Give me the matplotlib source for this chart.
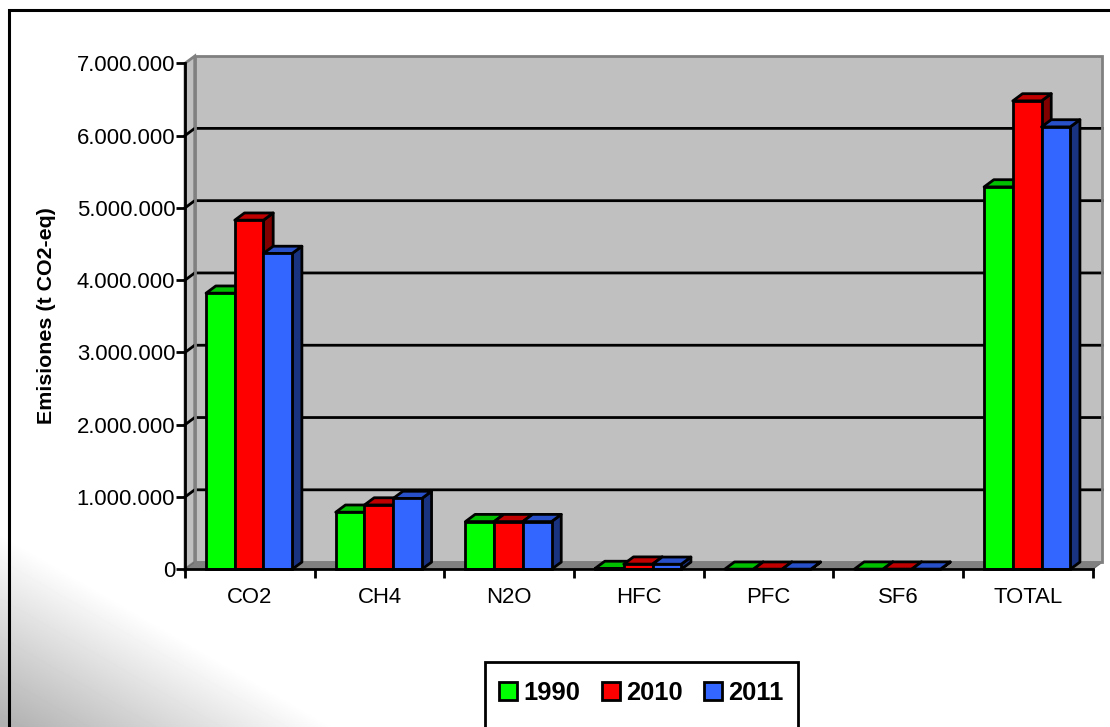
import numpy as np
import matplotlib
matplotlib.use('Agg')
import matplotlib.pyplot as plt
from matplotlib.patches import Polygon, Rectangle

plt.rcParams['font.family'] = ['Liberation Sans', 'DejaVu Sans']

categories = ['CO2', 'CH4', 'N2O', 'HFC', 'PFC', 'SF6', 'TOTAL']
v1990 = [3820000, 790000, 660000, 12000, 2000, 3000, 5290000]
v2010 = [4830000, 890000, 660000, 72000, 2000, 3000, 6480000]
v2011 = [4370000, 980000, 660000, 70000, 2000, 3000, 6120000]
series_names = ['1990', '2010', '2011']
y_ticks = [0, 1000000, 2000000, 3000000, 4000000, 5000000, 6000000, 7000000]
y_labels = ['0', '1.000.000', '2.000.000', '3.000.000', '4.000.000', '5.000.000', '6.000.000', '7.000.000']

# front, top, side colours of each series
front = ['#00FF00', '#FF0000', '#3366FF']
top = ['#00C000', '#C00000', '#2850C8']
side = ['#008000', '#800000', '#1A3380']

W, H = 1110, 727
fig = plt.figure(figsize=(W / 100, H / 100), dpi=100, facecolor='white')

# background: white, fading to grey in the lower left corner
bg = fig.add_axes([0, 0, 1, 1], zorder=0)
bg.set_axis_off()
xx, yy = np.meshgrid(np.arange(W), np.arange(H))
d = (xx - 8) * 0.58 + (727 - yy)
shade = 176 + (255 - 176) * np.clip(d / 190, 0, 1)
bg.imshow(shade, cmap='gray', vmin=0, vmax=255, extent=[0, W, H, 0], aspect='auto', interpolation='bilinear')
bg.set_xlim(0, W)
bg.set_ylim(H, 0)
bg.plot([8.5, 8.5, W], [H, 10, 10], color='black', lw=2.2, solid_joinstyle='miter')

# chart area, front plane of the 3d box
left, right, y0, y7 = 185, 1092.7, 569.3, 63.3
ax = fig.add_axes([left / W, 1 - y0 / H, (right - left) / W, (y0 - y7) / H], zorder=1)
ax.patch.set_alpha(0)
ax.set_xlim(0, len(categories))
ax.set_ylim(0, 7000000)

# depth of the box in data units
px = (right - left) / len(categories)
dx = 9.7 / px
dy = 7.2 / ((y0 - y7) / 7000000)
xmax = len(categories)
ymax = 7000000
lw = 2.0

ax.add_patch(Polygon([(dx, dy), (xmax + dx, dy), (xmax + dx, ymax + dy), (dx, ymax + dy)],
                     fc='#C0C0C0', ec='none', clip_on=False, zorder=1))
ax.add_patch(Polygon([(0, 0), (dx, dy), (dx, ymax + dy), (0, ymax)],
                     fc='#C0C0C0', ec='#808080', lw=lw, clip_on=False, zorder=1))
ax.add_patch(Polygon([(0, 0), (xmax, 0), (xmax + dx, dy), (dx, dy)],
                     fc='#808080', ec='#6E6E6E', lw=0.8, clip_on=False, zorder=1.5))

# gridlines on the back wall plus the short step on the side wall
for t in y_ticks[1:-1]:
    ax.plot([0, dx, xmax + dx], [t, t + dy, t + dy], color='black', lw=lw, clip_on=False, zorder=2)
ax.add_patch(Polygon([(dx, dy), (xmax + dx, dy), (xmax + dx, ymax + dy), (dx, ymax + dy)],
                     fill=False, ec='#808080', lw=lw, clip_on=False, zorder=2.5))

bar_w = 28.7 / px
x = np.arange(len(categories)) + 0.5 - 0.7 / px
all_values = [v1990, v2010, v2011]
z = 3
for i in range(len(categories)):
    for s in range(3):
        xl = x[i] + (s - 1.5) * bar_w
        v = all_values[s][i]
        xr = xl + bar_w
        ax.add_patch(Polygon([(xr, 0), (xr + dx, dy), (xr + dx, v + dy), (xr, v)],
                             fc=side[s], ec='black', lw=lw, joinstyle='round', clip_on=False, zorder=z))
        ax.add_patch(Polygon([(xl, v), (xr, v), (xr + dx, v + dy), (xl + dx, v + dy)],
                             fc=top[s], ec='black', lw=lw, joinstyle='round', clip_on=False, zorder=z))
        ax.bar(xl, v, width=bar_w, align='edge', color=front[s], edgecolor='black', lw=lw, clip_on=False, zorder=z + 0.5)
        z += 1

for sp in ['top', 'right']:
    ax.spines[sp].set_visible(False)
for sp in ['left', 'bottom']:
    ax.spines[sp].set_linewidth(lw)
    ax.spines[sp].set_zorder(50)

ax.set_yticks(y_ticks)
ax.set_yticklabels(y_labels, fontsize=15.9)
ax.set_xticks(np.arange(len(categories) + 1))
ax.set_xticklabels([])
ax.set_xticks(np.arange(len(categories)) + 0.5, minor=True)
ax.set_xticklabels(categories, minor=True, fontsize=15.9)
ax.tick_params(axis='x', which='major', length=6.5, width=lw, direction='out')
ax.tick_params(axis='x', which='minor', length=0, pad=13)
ax.tick_params(axis='y', length=6.5, width=lw, direction='out', pad=0.5)
fig.text(47 / W, 1 - 316 / H, 'Emisiones (t CO2-eq)', rotation=90, fontsize=15.4, fontweight='bold',
         ha='center', va='center', zorder=5)

# legend box runs off the bottom of the picture
bg.add_patch(Rectangle((485, 662), 313, 80, fc='white', ec='black', lw=lw, zorder=3))
handles = [Rectangle((0, 0), 1, 1, fc=front[s], ec='black', lw=lw) for s in range(3)]
leg = fig.legend(handles, series_names, ncol=3, frameon=False, prop={'size': 18.4, 'weight': 'bold'},
                 loc='center', bbox_to_anchor=(641.5 / W, 1 - 693 / H), handlelength=0.7, handleheight=0.72,
                 handletextpad=0.24, columnspacing=0.85, borderpad=0)
leg.set_zorder(6)

fig.savefig('out.png', dpi=100)
